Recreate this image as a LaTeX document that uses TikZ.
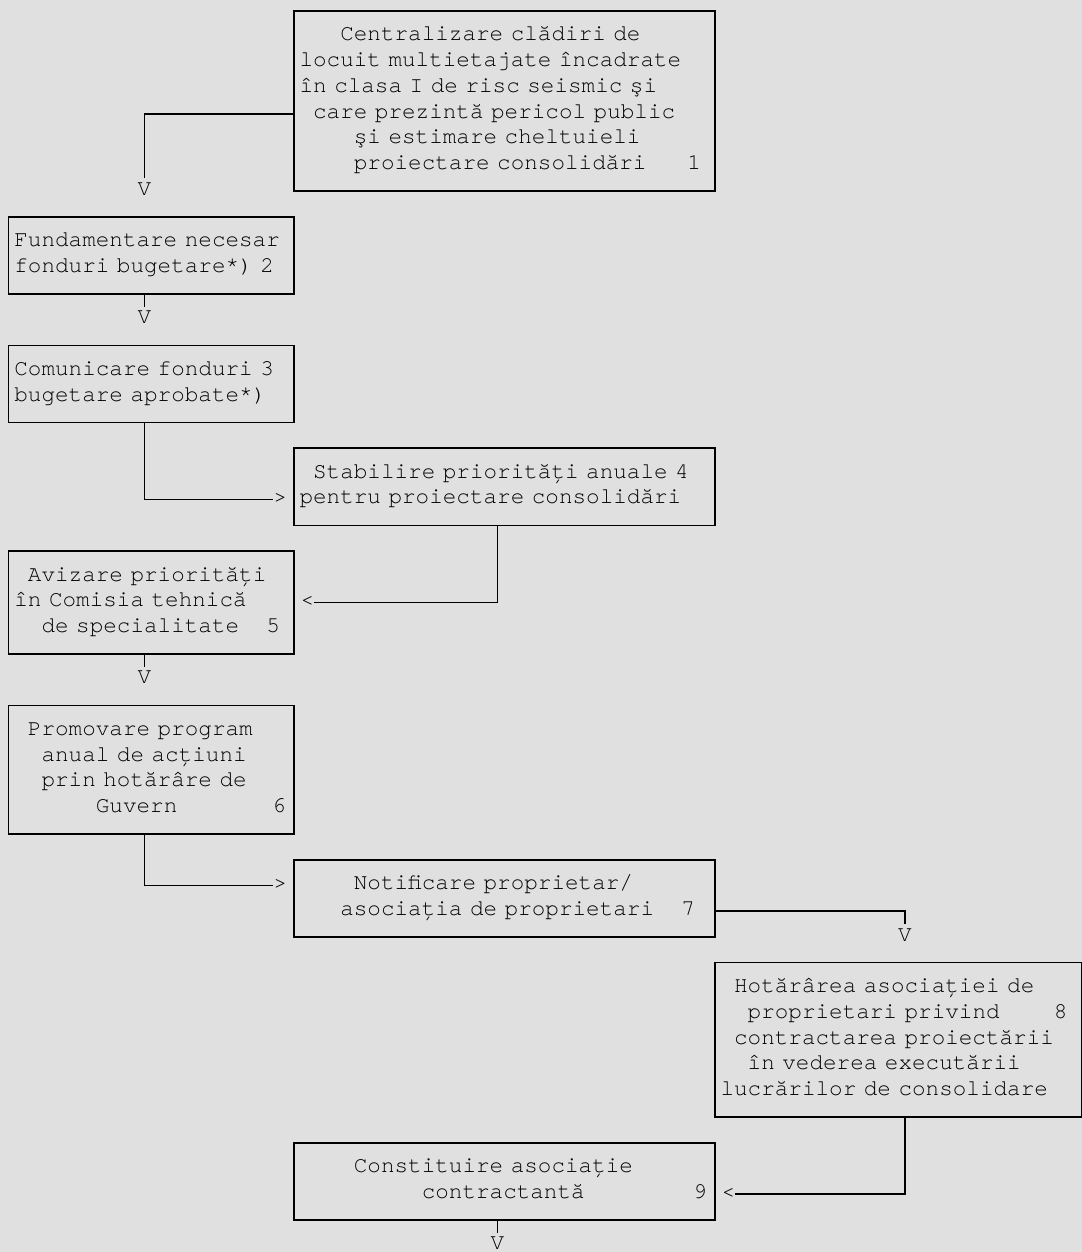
\documentclass[tikz,border=0pt]{standalone}
\usepackage{fontspec}
\setmonofont{TeX Gyre Cursor}
\definecolor{pagegray}{RGB}{224,224,224}
\newlength{\colw}\setlength{\colw}{13.58pt}
\newlength{\rowh}\setlength{\rowh}{25.72pt}
\newcommand{\rowstrut}{\rule[-8.6pt]{0pt}{\rowh}}
\newcommand{\sk}[1]{\hspace*{#1\colw}}
\tikzset{
  ascii/.style={font=\fontsize{22.63}{25.72}\selectfont\ttfamily, execute at begin node=\rowstrut},
  flowbox/.style 2 args={ascii, draw, line width=1.6pt, anchor=north west, outer sep=0pt,
    inner ysep=0pt, inner xsep={.5*\colw-1pt}, align=left,
    minimum width={#1*\colw}, minimum height={#2*\rowh}, text width={#1*\colw-\colw+2pt},
    execute at end node=\rowstrut},
  headchar/.style={ascii, inner sep=0pt, outer sep=0pt},
  wire/.style={line width=1.6pt},
}

\begin{document}
\begin{tikzpicture}[x=13.58pt, y=-25.72pt]

% page (one unit = one character cell)
\fill[pagegray] (-0.633,-0.428) rectangle (79.04,48.25);
\useasboundingbox (-0.633,-0.428) rectangle (79.04,48.25);

% boxes, placed by top left corner (column, row)
\node[flowbox={31}{7}] (b1) at (21,0) {\sk{3}Centralizare clădiri de\\
locuit multietajate încadrate\\
în clasa I de risc seismic şi\\
\sk{1}care prezintă pericol public\\
\sk{4}şi estimare cheltuieli\\
\sk{4}proiectare consolidări\sk{3}1};
\node[flowbox={21}{3}] (b2) at (0,8) {Fundamentare necesar\\fonduri bugetare*) 2};
\node[flowbox={21}{3}] (b3) at (0,13) {Comunicare fonduri 3\\bugetare aprobate*)};
\node[flowbox={31}{3}] (b4) at (21,17) {\sk{1}Stabilire priorități anuale 4\\pentru proiectare consolidări};
\node[flowbox={21}{4}] (b5) at (0,21) {\sk{1}Avizare priorități\\în Comisia tehnică\\\sk{2}de specialitate\sk{2}5};
\node[flowbox={21}{5}] (b6) at (0,27) {\sk{1}Promovare program\\\sk{2}anual de acțiuni\\\sk{2}prin hotărâre de\\\sk{6}Guvern\sk{7}6};
\node[flowbox={31}{3}] (b7) at (21,33) {\sk{4}Notificare proprietar/\\\sk{3}asociația de proprietari\sk{2}7};
\node[flowbox={27}{6}] (b8) at (52,37) {\sk{1}Hotărârea asociației de\\
\sk{2}proprietari privind\sk{4}8\\
\sk{1}contractarea proiectării\\
\sk{2}în vederea executării\\
lucrărilor de consolidare};
\node[flowbox={31}{3}] (b9) at (21,44) {\sk{4}Constituire asociație\\\sk{9}contractantă\sk{8}9};

% arrow heads as characters
\node[headchar] (v1) at (10,7) {V};
\node[headchar] (v2) at (10,12) {V};
\node[headchar] (gt4) at (20,19) {>};
\node[headchar] (lt5) at (22,23) {<};
\node[headchar] (v5) at (10,26) {V};
\node[headchar] (gt7) at (20,34) {>};
\node[headchar] (v7) at (66,36) {V};
\node[headchar] (lt9) at (53,46) {<};
\node[headchar] (v9) at (36,48) {V};

% connectors
\draw[wire] ([yshift=-.5*\rowh]b1.west) -| (v1.north);
\draw[wire] ([xshift=-.5*\colw]b2.south) -- (v2.north);
\draw[wire] ([xshift=-.5*\colw]b3.south) |- (gt4.west);
\draw[wire] ([xshift=-.5*\colw]b4.south) |- (lt5.east);
\draw[wire] ([xshift=-.5*\colw]b5.south) -- (v5.north);
\draw[wire] ([xshift=-.5*\colw]b6.south) |- (gt7.west);
\draw[wire] ([yshift=-.5*\rowh]b7.east) -| (v7.north);
\draw[wire] ([xshift=.5*\colw]b8.south) |- (lt9.east);
\draw[wire] ([xshift=-.5*\colw]b9.south) -- (v9.north);

\end{tikzpicture}
\end{document}
